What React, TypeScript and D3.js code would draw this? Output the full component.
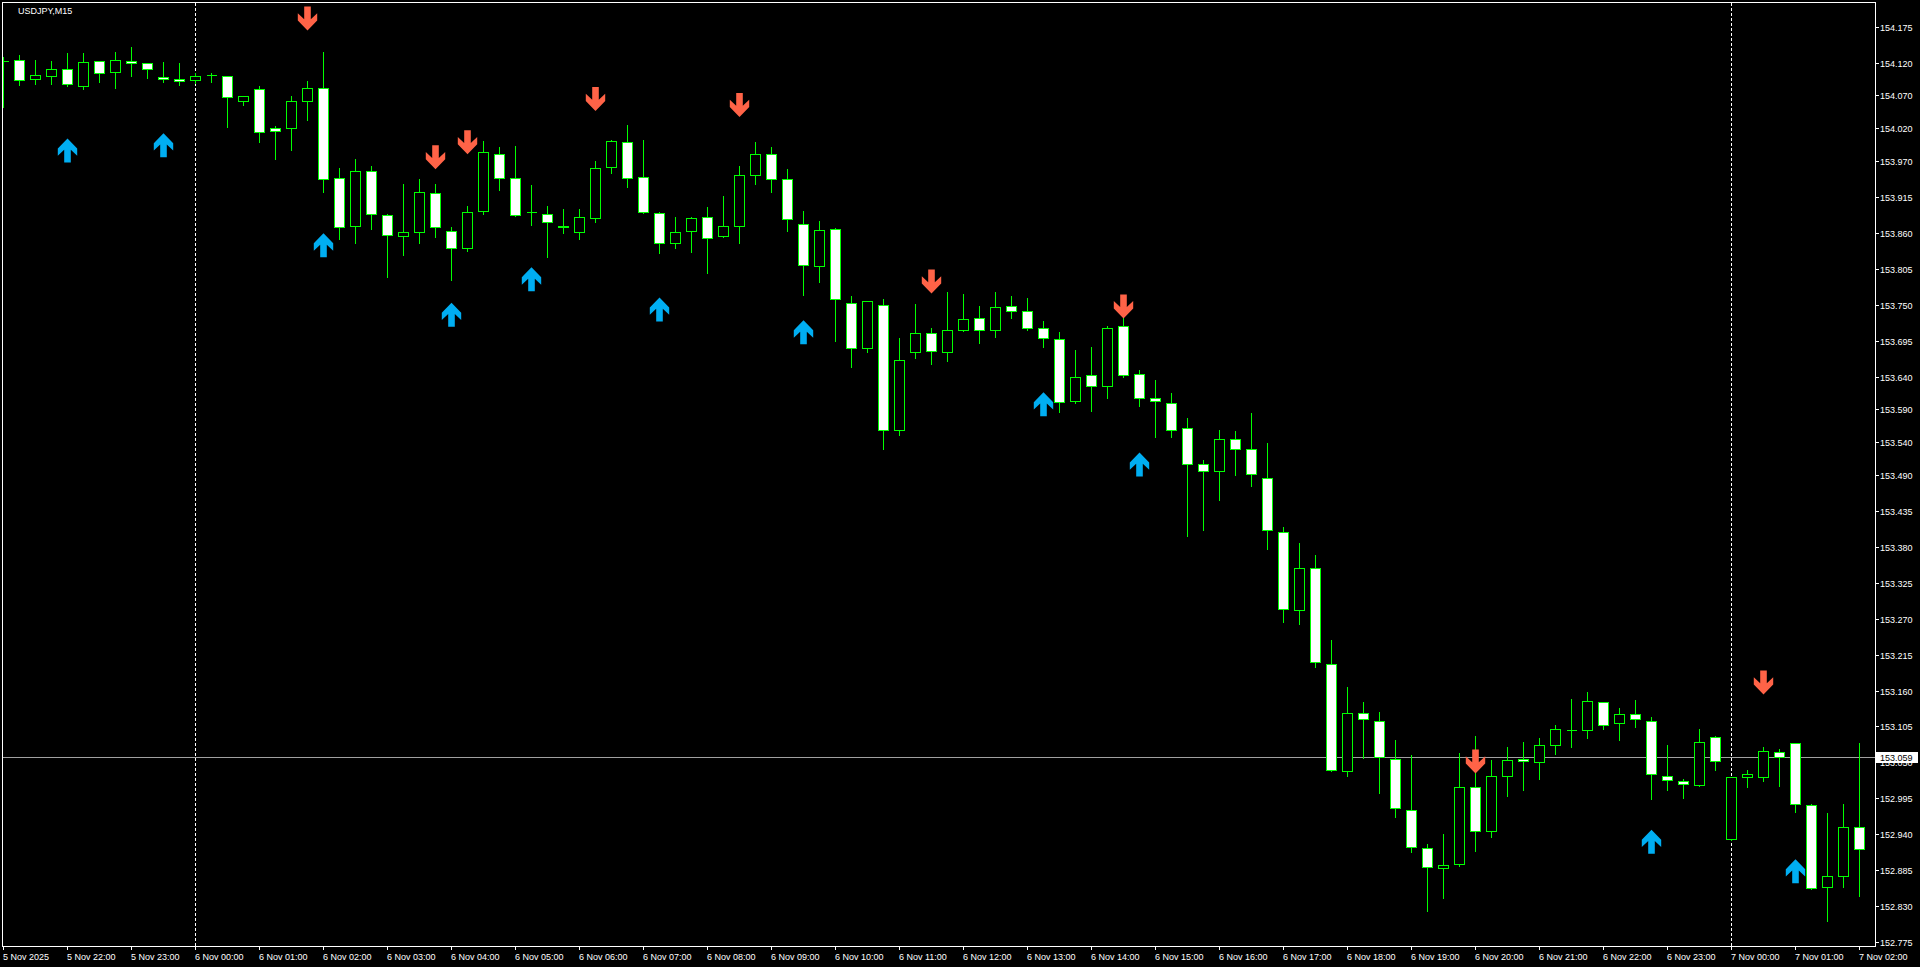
import React from "react";
import * as d3 from "d3";

const SYMBOL = "USDJPY,M15";

const timeLabels = [
  "5 Nov 2025", "5 Nov 22:00", "5 Nov 23:00",
  "6 Nov 00:00", "6 Nov 01:00", "6 Nov 02:00", "6 Nov 03:00", "6 Nov 04:00", "6 Nov 05:00",
  "6 Nov 06:00", "6 Nov 07:00", "6 Nov 08:00", "6 Nov 09:00", "6 Nov 10:00", "6 Nov 11:00",
  "6 Nov 12:00", "6 Nov 13:00", "6 Nov 14:00", "6 Nov 15:00", "6 Nov 16:00", "6 Nov 17:00",
  "6 Nov 18:00", "6 Nov 19:00", "6 Nov 20:00", "6 Nov 21:00", "6 Nov 22:00", "6 Nov 23:00",
  "7 Nov 00:00", "7 Nov 01:00", "7 Nov 02:00",
];
const BARS_PER_LABEL = 4;
const daySeparatorBars = [12, 108];

const priceTicks = [
  154.175, 154.12, 154.07, 154.02, 153.97, 153.915, 153.86, 153.805, 153.75, 153.695,
  153.64, 153.59, 153.54, 153.49, 153.435, 153.38, 153.325, 153.27, 153.215, 153.16,
  153.105, 153.05, 152.995, 152.94, 152.885, 152.83, 152.775,
];
const bidPrice = 153.059;

const opens = [
  154.123, 154.124, 154.095, 154.099, 154.110, 154.085, 154.122, 154.106, 154.122, 154.119,
  154.098, 154.095, 154.093, 154.101, 154.099, 154.061, 154.079, 154.020, 154.020, 154.061,
  154.082, 153.943, 153.870, 153.955, 153.887, 153.855, 153.861, 153.920, 153.862, 153.836,
  153.893, 153.981, 153.943, 153.891, 153.888, 153.871, 153.861, 153.882, 153.960, 153.998,
  153.945, 153.890, 153.845, 153.862, 153.884, 153.855, 153.871, 153.948, 153.980, 153.942,
  153.874, 153.809, 153.865, 153.752, 153.683, 153.749, 153.559, 153.677, 153.706, 153.677,
  153.711, 153.729, 153.712, 153.748, 153.741, 153.715, 153.697, 153.602, 153.642, 153.625,
  153.717, 153.644, 153.608, 153.599, 153.561, 153.507, 153.495, 153.544, 153.530, 153.485,
  153.403, 153.283, 153.348, 153.200, 153.037, 153.125, 153.113, 153.056, 152.978, 152.919,
  152.888, 152.894, 153.012, 152.945, 153.030, 153.056, 153.050, 153.076, 153.099, 153.099,
  153.142, 153.110, 153.124, 153.113, 153.030, 153.021, 153.015, 153.089, 152.933, 153.027,
  153.027, 153.066, 153.079, 152.985, 152.859, 152.877, 152.951,
];
const highs = [
  154.129, 154.132, 154.124, 154.123, 154.135, 154.135, 154.123, 154.136, 154.144, 154.120,
  154.121, 154.120, 154.104, 154.104, 154.100, 154.069, 154.084, 154.023, 154.069, 154.092,
  154.136, 153.959, 153.973, 153.962, 153.888, 153.935, 153.942, 153.935, 153.869, 153.901,
  154.000, 153.991, 153.993, 153.933, 153.901, 153.897, 153.897, 153.970, 154.002, 154.025,
  154.002, 153.891, 153.884, 153.884, 153.899, 153.916, 153.962, 153.999, 153.991, 153.957,
  153.893, 153.878, 153.867, 153.763, 153.756, 153.758, 153.699, 153.751, 153.715, 153.770,
  153.767, 153.748, 153.770, 153.763, 153.760, 153.725, 153.708, 153.680, 153.685, 153.718,
  153.731, 153.650, 153.635, 153.615, 153.576, 153.513, 153.559, 153.557, 153.584, 153.538,
  153.410, 153.385, 153.367, 153.237, 153.166, 153.142, 153.127, 153.085, 153.061, 152.925,
  152.940, 153.064, 153.090, 153.053, 153.073, 153.082, 153.087, 153.108, 153.147, 153.157,
  153.143, 153.134, 153.145, 153.119, 153.076, 153.024, 153.101, 153.090, 153.028, 153.038,
  153.073, 153.070, 153.080, 152.987, 152.972, 152.986, 153.079,
];
const lows = [
  154.052, 154.086, 154.088, 154.088, 154.085, 154.079, 154.091, 154.082, 154.099, 154.096,
  154.091, 154.086, 154.089, 154.091, 154.022, 154.056, 153.999, 153.973, 153.987, 154.033,
  153.923, 153.850, 153.844, 153.865, 153.793, 153.826, 153.845, 153.854, 153.788, 153.832,
  153.888, 153.926, 153.885, 153.872, 153.823, 153.859, 153.851, 153.877, 153.952, 153.930,
  153.890, 153.829, 153.836, 153.831, 153.799, 153.854, 153.845, 153.935, 153.923, 153.863,
  153.764, 153.785, 153.695, 153.655, 153.678, 153.529, 153.550, 153.669, 153.660, 153.664,
  153.710, 153.692, 153.700, 153.729, 153.711, 153.685, 153.586, 153.599, 153.588, 153.607,
  153.640, 153.595, 153.548, 153.547, 153.397, 153.406, 153.452, 153.489, 153.472, 153.377,
  153.264, 153.261, 153.196, 153.037, 153.030, 153.057, 153.004, 152.966, 152.913, 152.823,
  152.843, 152.891, 152.915, 152.936, 152.998, 153.008, 153.025, 153.063, 153.073, 153.088,
  153.101, 153.085, 153.104, 152.994, 153.008, 152.995, 153.014, 153.038, 152.932, 153.013,
  153.021, 153.014, 152.975, 152.856, 152.808, 152.859, 152.846,
];
const closes = [
  154.123, 154.093, 154.101, 154.110, 154.087, 154.121, 154.104, 154.124, 154.119, 154.110,
  154.095, 154.092, 154.099, 154.101, 154.067, 154.069, 154.014, 154.015, 154.061, 154.081,
  153.942, 153.868, 153.955, 153.888, 153.856, 153.861, 153.922, 153.868, 153.836, 153.891,
  153.983, 153.943, 153.887, 153.891, 153.877, 153.868, 153.884, 153.959, 154.000, 153.943,
  153.891, 153.844, 153.861, 153.882, 153.852, 153.871, 153.949, 153.980, 153.942, 153.881,
  153.810, 153.864, 153.758, 153.683, 153.755, 153.558, 153.666, 153.706, 153.679, 153.712,
  153.728, 153.712, 153.746, 153.741, 153.715, 153.699, 153.601, 153.640, 153.625, 153.715,
  153.642, 153.607, 153.602, 153.559, 153.507, 153.495, 153.544, 153.530, 153.491, 153.405,
  153.284, 153.348, 153.203, 153.038, 153.125, 153.116, 153.059, 152.980, 152.920, 152.890,
  152.893, 153.012, 152.945, 153.029, 153.053, 153.052, 153.076, 153.101, 153.099, 153.144,
  153.108, 153.124, 153.116, 153.032, 153.023, 153.017, 153.082, 153.052, 153.027, 153.033,
  153.067, 153.059, 152.986, 152.858, 152.876, 152.951, 152.917,
];

// signal arrows: bar index + price of the arrow tip
const upArrowBars = [4, 10, 20, 28, 33, 41, 50, 65, 71, 103, 112];
const upArrowPrices = [154.004, 154.012, 153.859, 153.753, 153.807, 153.761, 153.726, 153.616, 153.524, 152.947, 152.902];
const downArrowBars = [19, 27, 29, 37, 46, 58, 70, 92, 110];
const downArrowPrices = [154.169, 153.957, 153.980, 154.046, 154.037, 153.767, 153.729, 153.033, 153.154];

const W = 1920;
const H = 967;
const PL = 2;
const PR = 1875;
const PT = 2;
const PB = 946;
const FONT = "'Liberation Sans', Arial, sans-serif";
const UP_COLOR = "#00aef2";
const DOWN_COLOR = "#ff6347";
const CANDLE = "#00ff00";

const arrowShape: [number, number][] = [
  [-3.3, 24], [3.3, 24], [3.3, 11.3], [9.7, 17.3], [9.7, 10], [0, 0],
  [-9.7, 10], [-9.7, 17.3], [-3.3, 11.3],
];

export default function App() {
  const n = opens.length;
  const x = d3.scaleLinear().domain([0, n - 1]).range([3.5, 3.5 + 16 * (n - 1)]);
  const y = d3.scaleLinear().domain([152.775, 154.175]).range([942.3, 26.7]);
  const snap = (v: number) => Math.round(v) + 0.5;

  const arrow = (cx: number, tip: number, dir: number) =>
    d3.line()(arrowShape.map(([dx, dy]) => [cx + dx, tip + dy * dir] as [number, number])) + "Z";

  const by = snap(y(bidPrice));

  return (
    <svg
      width={W}
      height={H}
      style={{ position: "absolute", left: 0, top: 0, display: "block", background: "#000" }}
      fontFamily={FONT}
    >
      <rect x={0} y={0} width={W} height={H} fill="#000" />
      <defs>
        <clipPath id="plot">
          <rect x={PL + 1} y={PT + 1} width={PR - PL - 1} height={PB - PT - 1} />
        </clipPath>
      </defs>

      {/* day separators */}
      {daySeparatorBars.map((b) => (
        <line key={"sep" + b} x1={x(b)} x2={x(b)} y1={PT + 1} y2={PB} stroke="#fff" strokeDasharray="3,2" />
      ))}

      {/* bid line */}
      <line x1={PL} x2={PR} y1={by} y2={by} stroke="#a0a0a0" shapeRendering="crispEdges" />

      <g clipPath="url(#plot)" shapeRendering="crispEdges">
        {opens.map((o, i) => {
          const c = closes[i];
          const cx = x(i);
          const yh = Math.round(y(highs[i]));
          const yl = Math.round(y(lows[i]));
          const yTop = snap(y(Math.max(o, c)));
          const yBot = snap(y(Math.min(o, c)));
          const bear = c < o;
          return (
            <g key={i}>
              <line x1={cx} x2={cx} y1={yh} y2={yl + 1} stroke={CANDLE} />
              {yBot - yTop < 1 ? (
                <line x1={cx - 5} x2={cx + 5} y1={yTop} y2={yTop} stroke={CANDLE} />
              ) : (
                <rect x={cx - 5} y={yTop} width={10} height={yBot - yTop} fill={bear ? "#fff" : "#000"} stroke={CANDLE} />
              )}
            </g>
          );
        })}
      </g>

      {/* arrows */}
      <g clipPath="url(#plot)">
        {upArrowBars.map((b, k) => (
          <path key={"u" + k} d={arrow(x(b), y(upArrowPrices[k]), 1)} fill={UP_COLOR} />
        ))}
        {downArrowBars.map((b, k) => (
          <path key={"d" + k} d={arrow(x(b), y(downArrowPrices[k]), -1)} fill={DOWN_COLOR} />
        ))}
      </g>

      {/* frame */}
      <g stroke="#fff" shapeRendering="crispEdges">
        <line x1={PL} x2={PR + 1} y1={PT + 0.5} y2={PT + 0.5} />
        <line x1={PL + 0.5} x2={PL + 0.5} y1={PT} y2={PB + 1} />
        <line x1={PR + 0.5} x2={PR + 0.5} y1={PT} y2={PB + 1} />
        <line x1={PL} x2={PR + 1} y1={PB + 0.5} y2={PB + 0.5} />
      </g>

      {/* price axis */}
      {priceTicks.map((p) => {
        const ty = snap(y(p));
        return (
          <g key={"p" + p}>
            <line x1={PR + 1} x2={PR + 4} y1={ty} y2={ty} stroke="#fff" shapeRendering="crispEdges" />
            <text x={PR + 5} y={ty + 3.5} fill="#fff" fontSize={9}>
              {p.toFixed(3)}
            </text>
          </g>
        );
      })}

      {/* bid label */}
      <rect x={PR + 1} y={by - 5.5} width={42} height={11} fill="#fff" />
      <text x={PR + 5} y={by + 3.5} fill="#000" fontSize={9}>
        {bidPrice.toFixed(3)}
      </text>

      {/* time axis */}
      {timeLabels.map((t, j) => {
        const tx = x(j * BARS_PER_LABEL);
        return (
          <g key={"t" + j}>
            <line x1={tx} x2={tx} y1={PB + 1} y2={PB + 4} stroke="#fff" shapeRendering="crispEdges" />
            <text x={tx - 0.5} y={960} fill="#fff" fontSize={9}>
              {t}
            </text>
          </g>
        );
      })}

      {/* title */}
      <text x={18} y={14} fill="#fff" fontSize={9}>
        {SYMBOL}
      </text>
    </svg>
  );
}
